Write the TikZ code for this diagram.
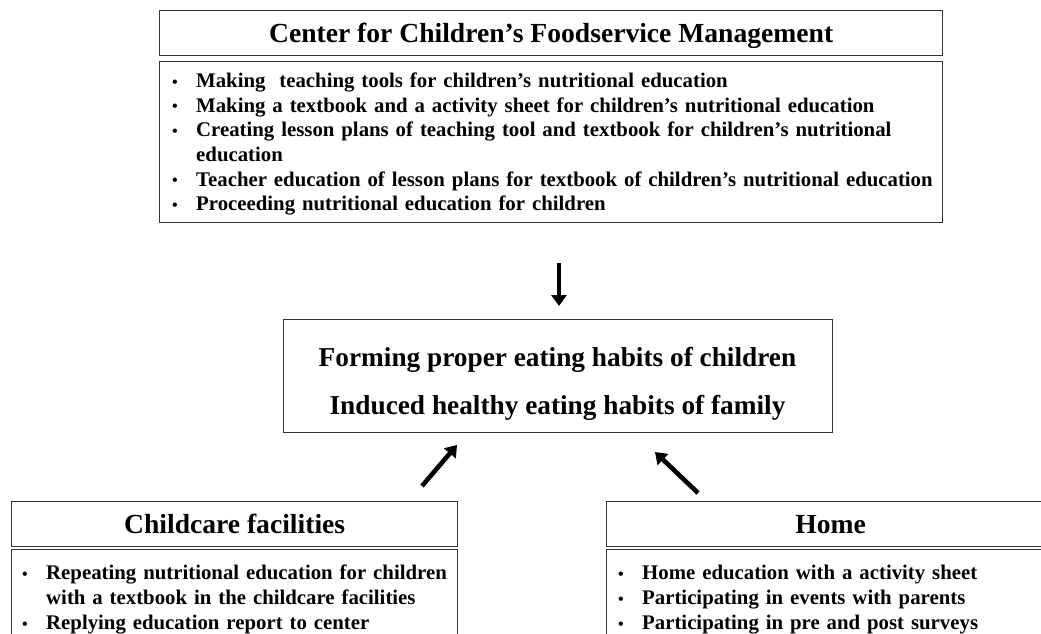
\documentclass[tikz,border=0pt]{standalone}
\usepackage{fontspec}
\setmainfont{Liberation Serif}
\usetikzlibrary{arrows.meta}
\tikzset{
  boxshape/.style={draw=black!80, line width=1.3pt, inner sep=0pt, anchor=north west},
  titletxt/.style={font=\fontsize{27.6}{30}\selectfont\bfseries, text height=32pt, text depth=13pt},
  midtxt/.style={font=\fontsize{27.3}{30}\selectfont\bfseries, inner sep=0pt, anchor=base},
  listtxt/.style={font=\fontsize{20.8}{24.6}\selectfont\bfseries, inner sep=0pt, anchor=north west, align=left},
  lowlist/.style={font=\fontsize{20.8}{25}\selectfont\bfseries, inner sep=0pt, anchor=north west, align=left},
  fatarrow/.style={line width=4.6pt, -{Triangle[width=15pt,length=11pt]}},
}
\newcommand\bitem[1]{\par\noindent\hangindent=25pt\hangafter=1\makebox[25pt][l]{\hspace{1pt}\raisebox{0.5pt}{\fontsize{16}{16}\selectfont •}}\strut#1}
\begin{document}
\begin{tikzpicture}[x=1pt,y=-1pt]
\clip (0,0) rectangle (1041,633);
% top block
\node[boxshape, titletxt, minimum width=783pt, minimum height=45pt] (ctitle) at (159,10)
  {Center for Children’s Foodservice Management};
\node[boxshape, minimum width=783pt, minimum height=161pt] (clist) at (159,61) {};
\node[listtxt, text width=780pt] (clisttext) at (171,62.8) {%
  \bitem{Making\ \ teaching tools for children’s nutritional education}
  \bitem{Making a textbook and a activity sheet for children’s nutritional education}
  \bitem{Creating lesson plans of teaching tool and textbook for children’s nutritional\newline education}
  \bitem{Teacher education of lesson plans for textbook of children’s nutritional education}
  \bitem{Proceeding nutritional education for children}};
% middle block
\node[boxshape, minimum width=549pt, minimum height=113pt] (mid) at (283,319) {};
\node[midtxt] (midone) at (557.5,366) {Forming proper eating habits of children};
\node[midtxt] (midtwo) at (557.5,414) {Induced healthy eating habits of family};
% left block
\node[boxshape, titletxt, minimum width=446pt, minimum height=45pt] (ltitle) at (11,501)
  {Childcare facilities};
\node[boxshape, minimum width=446pt, minimum height=110pt] (llist) at (11,549) {};
\node[lowlist, text width=440pt] (llisttext) at (21,554.5) {%
  \bitem{Repeating nutritional education for children\newline with a textbook in the childcare facilities}
  \bitem{Replying education report to center}};
% right block
\node[boxshape, titletxt, minimum width=448pt, minimum height=45pt] (rtitle) at (606,501)
  {Home};
\node[boxshape, minimum width=448pt, minimum height=110pt] (rlist) at (606,549) {};
\node[lowlist, text width=430pt] (rlisttext) at (617,554.5) {%
  \bitem{Home education with a activity sheet}
  \bitem{Participating in events with parents}
  \bitem{Participating in pre and post surveys}};
% arrows
\coordinate (downs) at (559,263);
\coordinate (downe) at (559,306);
\coordinate (lefts) at (422,486);
\coordinate (lefte) at (457,445);
\coordinate (rights) at (698,493);
\coordinate (righte) at (655,452);
\draw[fatarrow] (downs) -- (downe);
\draw[fatarrow] (lefts) -- (lefte);
\draw[fatarrow] (rights) -- (righte);
\end{tikzpicture}
\end{document}
